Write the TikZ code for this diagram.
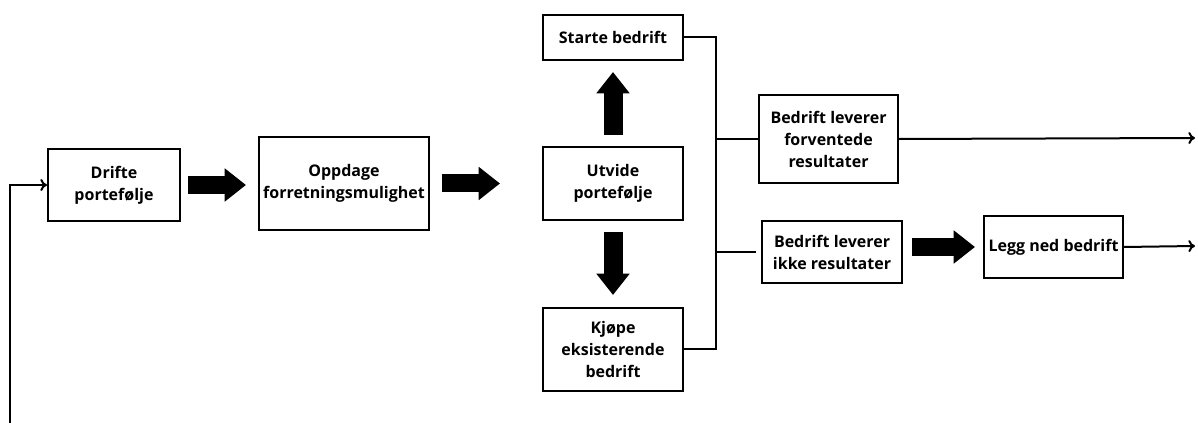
\documentclass[tikz,border=0pt]{standalone}
\usepackage{fontspec}
\setmainfont{Open Sans}
\usetikzlibrary{arrows.meta}
\begin{document}
\begin{tikzpicture}[x=0.75pt,y=-0.75pt,
	boks/.style={draw,line width=1.5pt,align=center,inner sep=1pt,font=\bfseries\fontsize{12}{16.5}\selectfont},
	blokkpil/.style={line width=13.5pt,-{Triangle[length=16pt,width=24pt]}},
	linje/.style={line width=1.5pt},
	utpil/.style={line width=1.5pt,-{To[length=5pt,width=9pt]}}]
	\useasboundingbox[fill=white] (0,0) rectangle (1198,423);
	\node[boks,minimum width=99pt,minimum height=54pt] (drifte) at (114,185) {Drifte\\portefølje};
	\node[boks,minimum width=127.5pt,minimum height=69.75pt] (oppdage) at (344,183.5) {Oppdage\\forretningsmulighet};
	\node[boks,minimum width=105pt,minimum height=54.75pt] (utvide) at (613,183.5) {Utvide\\portefølje};
	\node[boks,minimum width=105pt,minimum height=33.75pt] (starte) at (613,37.5) {Starte bedrift};
	\node[boks,minimum width=105pt,minimum height=62.25pt] (kjope) at (613,349.5) {Kjøpe\\eksisterende\\bedrift};
	\node[boks,minimum width=104.25pt,minimum height=66pt] (forventet) at (828.5,139) {Bedrift leverer\\forventede\\resultater};
	\node[boks,minimum width=105pt,minimum height=46.5pt] (ikke) at (832,252) {Bedrift leverer\\ikke resultater};
	\node[boks,minimum width=104.25pt,minimum height=46.5pt] (legg) at (1053.5,247) {Legg ned bedrift};
	\coordinate (retur) at (10,423);
	\coordinate (samle) at (716,37.5);
	\coordinate (utA) at (1195,138);
	\coordinate (utB) at (1195,246);
	\draw[blokkpil,shorten <=5.25pt,shorten >=9pt] (drifte.east) -- (drifte.east -| oppdage.west);
	\draw[blokkpil,shorten <=9pt,shorten >=31.5pt] (oppdage.east) -- (utvide.west);
	\draw[blokkpil,line width=14.25pt,shorten <=8.25pt,shorten >=8.25pt] (utvide.north) -- (starte.south);
	\draw[blokkpil,line width=14.25pt,shorten <=8.25pt,shorten >=9pt] (utvide.south) -- (kjope.north);
	\draw[blokkpil,shorten <=6.75pt,shorten >=6pt] (ikke.east |- legg.west) -- (legg.west);
	\draw[linje] (starte.east) -- (samle) -- (samle |- kjope.east) -- (kjope.east);
	\draw[linje] (samle |- forventet.west) -- (forventet.west);
	\draw[linje,shorten >=3.75pt] (samle |- ikke.west) -- (ikke.west);
	\draw[utpil] (forventet.east) -- (utA);
	\draw[utpil] (legg.east) -- (utB);
	\draw[utpil] (retur) |- (drifte.west);
\end{tikzpicture}
\end{document}
